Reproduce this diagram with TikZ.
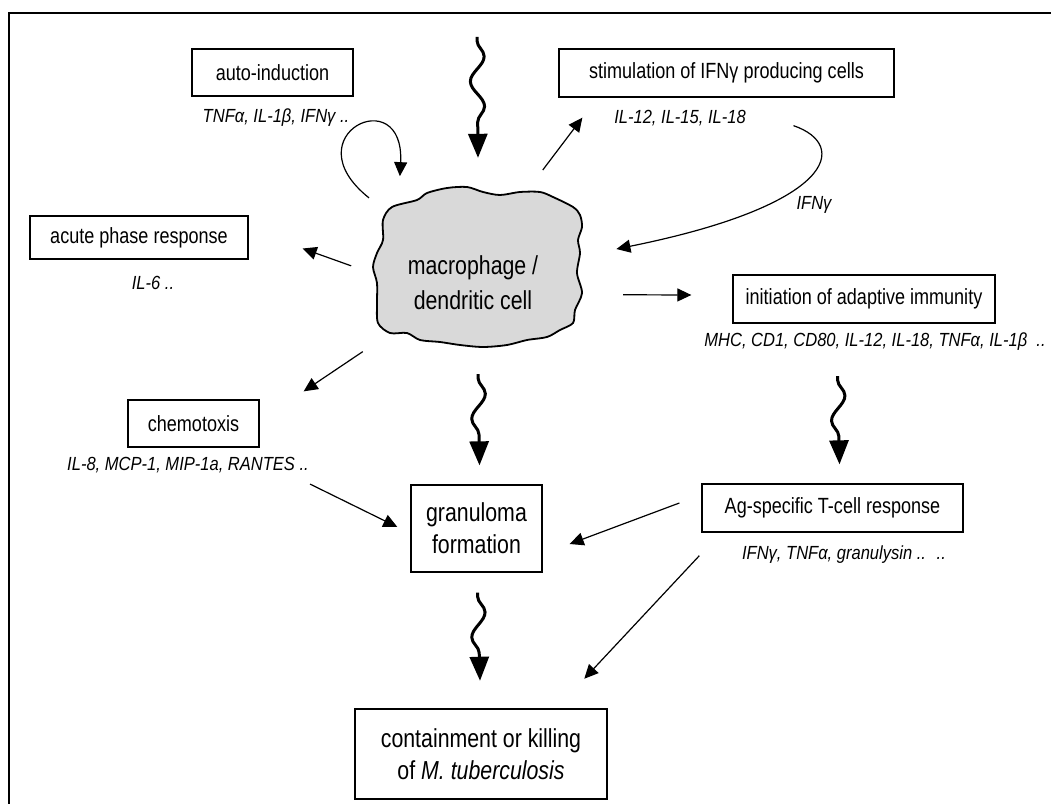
\documentclass[tikz,border=0pt]{standalone}
\usepackage{fontspec}
\setmainfont{Liberation Sans}[FakeStretch=0.82]
\newfontfamily\labfont{Liberation Sans}[FakeStretch=0.87]
\usetikzlibrary{arrows.meta,calc,decorations.pathmorphing,shapes.geometric}

\begin{document}
\begin{tikzpicture}[x=1pt, y=-1pt,
    box/.style={draw, line width=1.3pt, inner sep=0pt, minimum height=47pt, align=center, font=\fontsize{22}{26}\selectfont},
    bigbox/.style={box, font=\fontsize{26}{32}\selectfont},
    lab/.style={inner sep=1pt, font=\labfont\fontsize{19}{22}\selectfont\itshape},
    conn/.style={line width=1.2pt, -{Triangle[width=13pt,length=14pt]}},
    squiggle/.style={line width=3pt, -{Triangle[width=19pt,length=24pt]}, decorate,
        decoration={snake, amplitude=7pt, segment length=50pt, pre length=4pt, post length=26pt}}
]
    \useasboundingbox (0,0) rectangle (1051,803);
    \clip (0,0) rectangle (1051,803);

    % outer frame, cut by the page
    \draw[line width=2.5pt] (9,840) -- (9,13) -- (1090,13);

    % central cell
    \filldraw[fill=black!15, line width=1.8pt] plot[smooth cycle] coordinates {
        (383,220) (392,207) (417,200) (427,193) (447,188) (467,187) (483,192) (500,195)
        (520,192) (540,192) (553,197) (573,207) (580,215) (582,227) (578,240) (580,253)
        (577,273) (582,293) (575,310) (573,323) (560,330) (547,337) (527,340) (507,345)
        (483,347) (460,345) (440,342) (420,340) (407,333) (390,333) (378,323) (377,303)
        (377,283) (373,267) (377,253) (383,240)};
    \node[ellipse, minimum width=280pt, minimum height=216pt, inner sep=0pt] (cell) at (478,266) {};
    \node[font=\fontsize{26}{35}\selectfont, align=center] (celltxt) at (473,283) {macrophage /\\dendritic cell};

    % effects of the cell
    \node[box, minimum width=161pt] (auto) at (272.5,72.5) {auto-induction};
    \node[lab] (autolab) at (276,118) {TNFα, IL-1β, IFNγ ..};

    \node[box, minimum width=335pt, minimum height=48pt] (stim) at (726.5,73) {stimulation of IFNγ producing cells};
    \node[lab] (stimlab) at (680,118) {IL-12, IL-15, IL-18};
    \node[lab] (ifnlab) at (814,205) {IFNγ};

    \node[box, minimum width=218pt, minimum height=43pt] (acute) at (139,237.5) {acute phase response};
    \node[lab] (acutelab) at (153,283) {IL-6 ..};

    \node[box, minimum width=262pt, minimum height=48pt] (init) at (864,299) {initiation of adaptive immunity};
    \node[lab] (initlab) at (875,342) {MHC, CD1, CD80, IL-12, IL-18, TNFα, IL-1β \ ..};

    \node[box, minimum width=131pt] (chemo) at (193.5,423.5) {chemotoxis};
    \node[lab] (chemolab) at (188,465) {IL-8, MCP-1, MIP-1a, RANTES ..};

    \node[bigbox, minimum width=131pt, minimum height=87pt] (gran) at (476.5,528.5) {granuloma\\formation};

    \node[box, minimum width=261pt, minimum height=48pt] (ag) at (832.5,508) {Ag-specific T-cell response};
    \node[lab] (aglab) at (844,555) {IFNγ, TNFα, granulysin .. \ ..};

    \node[bigbox, line width=2.5pt, minimum width=252pt, minimum height=90pt] (kill) at (481,754) {containment or killing\\of \textit{M. tuberculosis}};

    % wavy arrows
    \draw[squiggle] ($(cell.north)+(-1,-121)$) -- (cell.north);
    \draw[squiggle] (cell.south) -- ($(gran.north)+(3,-19)$);
    \draw[squiggle] ($(gran.south)+(1,20)$) -- ($(kill.north)+(-1,-27)$);
    \draw[squiggle] ($(initlab.south -| ag.north)+(5,24)$) -- ($(ag.north)+(7,-19)$);

    % thin arrows
    \draw[conn] (cell.56) -- ($(stim.south west)+(24,20)$);
    \draw[conn] (cell.148) .. controls (290,135) and (405,80) .. (cell.131);
    \draw[conn] ($(stim.south)+(67,28)$) .. controls (850,145) and (835,205) .. (cell.7);
    \draw[conn, shorten <=-14pt] (cell.178) -- ($(acute.east)+(54,11)$);
    \draw[conn, shorten <=18pt] (cell.-143) -- ($(chemo.north east)+(44,-8)$);
    \draw[conn, shorten <=10pt] (cell.-12) -- ($(init.west)+(-41,-4)$);
    \draw[conn] ($(chemolab.south east)+(0,10)$) -- ($(gran.west)+(-13,-1.5)$);
    \draw[conn] ($(ag.west)+(-22,-5)$) -- ($(gran.east)+(27,15.5)$);
    \draw[conn] ($(ag.south west)+(-2,23)$) -- ($(kill.north east)+(-24,-29)$);
\end{tikzpicture}
\end{document}
